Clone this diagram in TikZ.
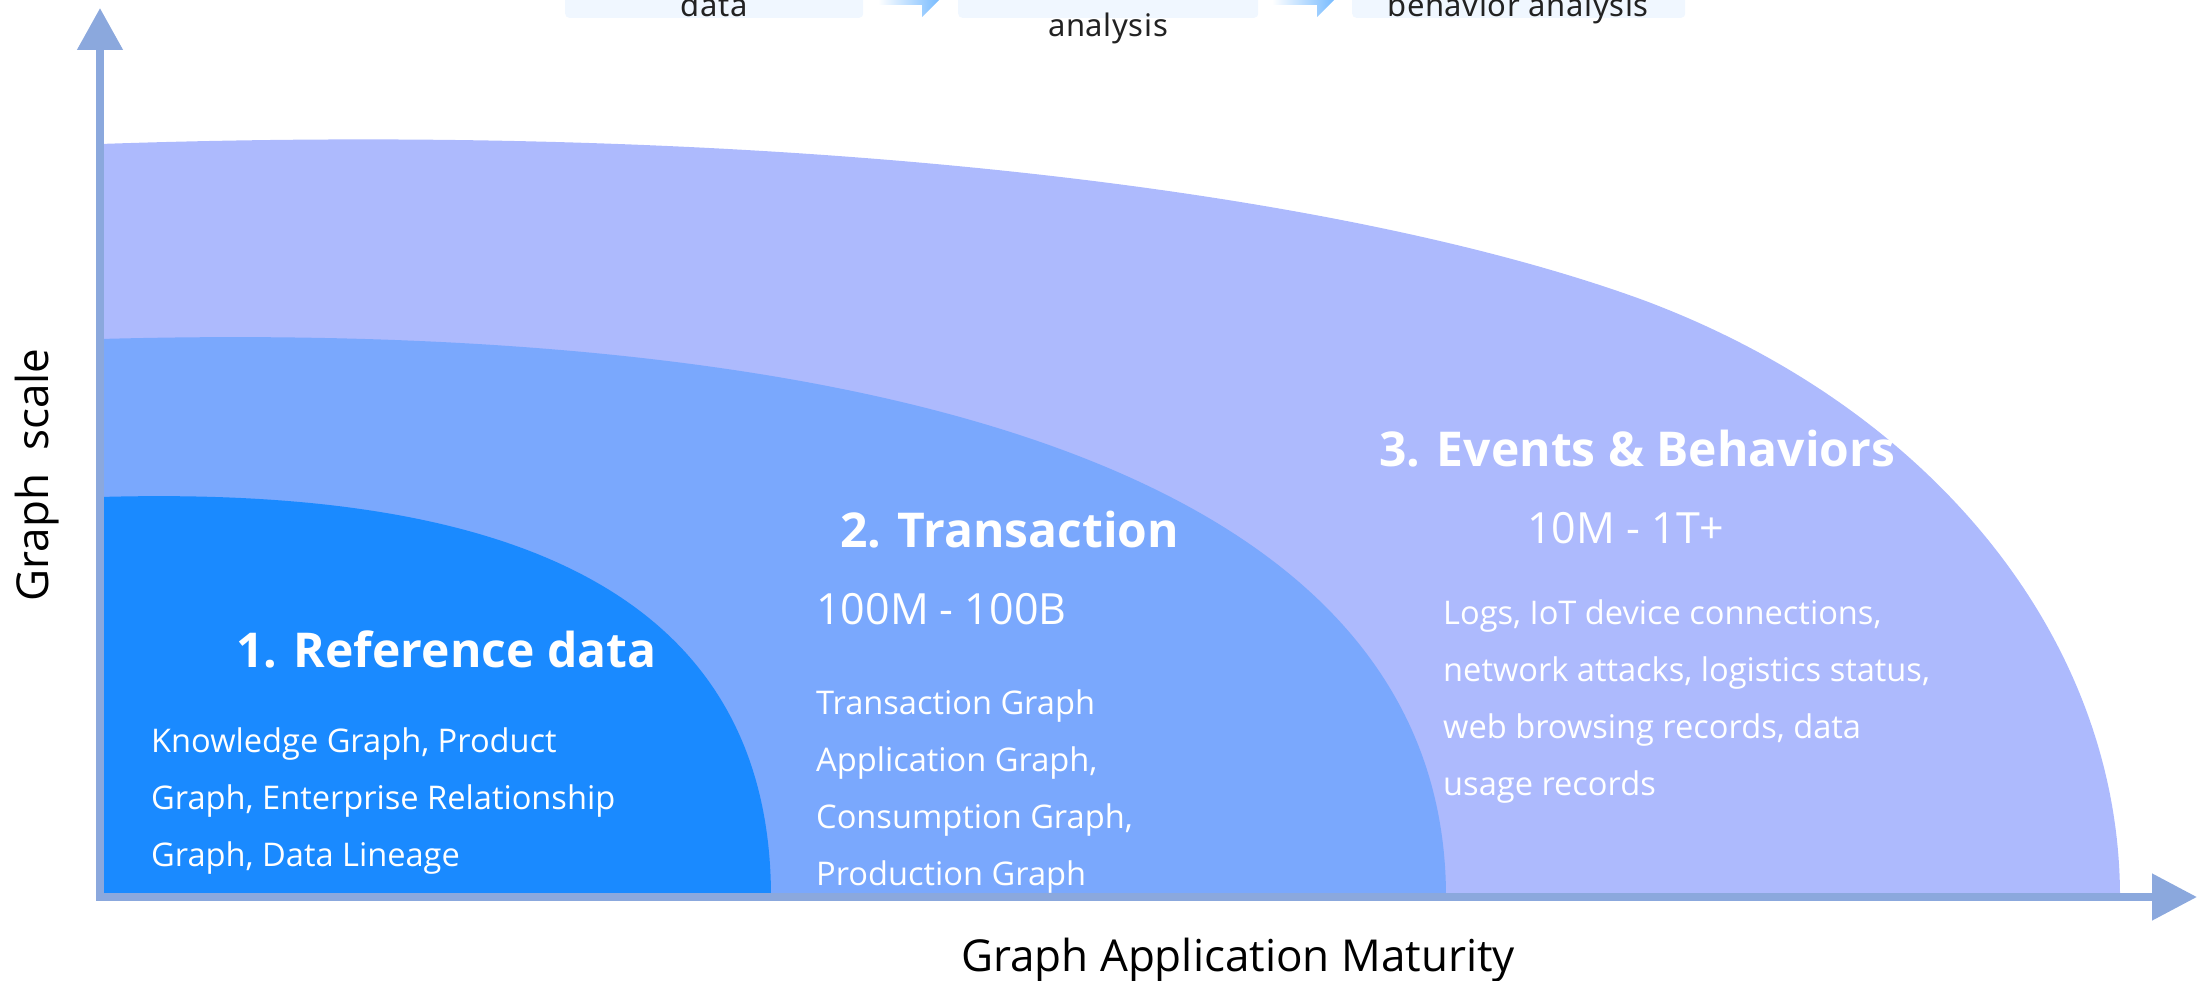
\documentclass[tikz,border=0pt]{standalone}
\usepackage{fontspec}
\setmainfont{Open Sans}
\newfontfamily\boxfont[LetterSpace=2]{Noto Sans}
\usetikzlibrary{arrows.meta}
\definecolor{outerband}{HTML}{ADBAFD}
\definecolor{midband}{HTML}{7AA8FD}
\definecolor{innerband}{HTML}{1A8AFF}
\definecolor{axiscol}{HTML}{8BA8DD}
\definecolor{stepfill}{HTML}{F0F7FF}
\definecolor{steparrow}{HTML}{4DA6FF}
\definecolor{steptext}{HTML}{222222}
\begin{document}
\begin{tikzpicture}[x=1pt,y=-1pt,
  bandtitle/.style={anchor=base west, inner sep=0, text=white, font=\fontsize{48}{56}\selectfont\bfseries},
  bandrange/.style={anchor=base west, inner sep=0, text=white, font=\fontsize{43}{50}\selectfont},
  bandbody/.style={anchor=base west, inner sep=0, text=white, align=left, font=\fontsize{32.6}{57}\selectfont},
  axislabel/.style={inner sep=0, text=black, font=\fontsize{44}{52}\selectfont},
  stepbox/.style={fill=stepfill, draw=none, rounded corners=4pt, inner sep=0, anchor=south west, minimum height=60pt},
  steplabel/.style={anchor=base, inner sep=0, text=steptext, font=\boxfont\fontsize{31}{36}\selectfont},
  stepshade/.style={left color=white, right color=steparrow},
]
\useasboundingbox (0,0) rectangle (2207,981);
\clip (0,0) rectangle (2207,981);

% nested bands, from the widest to the narrowest
\fill[outerband] (100,897) -- (100,144)
  .. controls (800,120) and (1350,193) .. (1643,300)
  .. controls (1933,408) and (2120,640) .. (2120,897) -- cycle;
\fill[midband] (100,897) -- (100,339) .. controls (834,319) and (1446,455) .. (1446,897) -- cycle;
\fill[innerband] (100,897) -- (100,497) .. controls (450,487) and (771,560) .. (771,897) -- cycle;

% process steps along the top edge
\node[stepbox, minimum width=298pt] (box1) at (565,18) {};
\node[stepbox, minimum width=300pt] (box2) at (958,18) {};
\node[stepbox, minimum width=333pt] (box3) at (1352,18) {};
\shade[stepshade] (878,-20) -- (878,5) -- (922,5) -- (922,17) -- (959,-20) -- cycle;
\shade[stepshade] (1272,-20) -- (1272,5) -- (1317,5) -- (1317,17) -- (1354,-20) -- cycle;
\node[steplabel] (s1) at (714,17) {data};
\node[steplabel] (s2) at (1108,37) {analysis};
\node[steplabel] (s3) at (1518,17) {behavior analysis};

% axes
\coordinate (origin) at (100,897);
\coordinate (ytip) at (100,8);
\coordinate (xtip) at (2197,897);
\draw[axiscol, line width=8pt, {Triangle[width=44pt,length=42pt]}-{Triangle[width=45pt,length=45pt]}] (ytip) -- (origin) -- (xtip);

% band texts
\node[bandtitle] (t1) at (236,667) {1. Reference data};
\node[bandbody] (b1) at (151,866) {Knowledge Graph, Product\\Graph, Enterprise Relationship\\Graph, Data Lineage};
\node[bandtitle] (t2) at (840,547) {2. Transaction};
\node[bandrange] (r2) at (816,624) {100M - 100B};
\node[bandbody] (b2) at (816,885) {Transaction Graph\\Application Graph,\\Consumption Graph,\\Production Graph};
\node[bandtitle] (t3) at (1379,466) {3. Events \& Behaviors};
\node[bandrange] (r3) at (1527,543) {10M - 1T+};
\node[bandbody] (b3) at (1443,795) {Logs, IoT device connections,\\network attacks, logistics status,\\web browsing records, data\\usage records};

% axis labels
\node[axislabel, anchor=base] (xl) at (1238,971) {Graph Application Maturity};
\node[axislabel, rotate=90, anchor=base] (yl) at (48,475) {Graph\ \ scale};
\end{tikzpicture}
\end{document}
